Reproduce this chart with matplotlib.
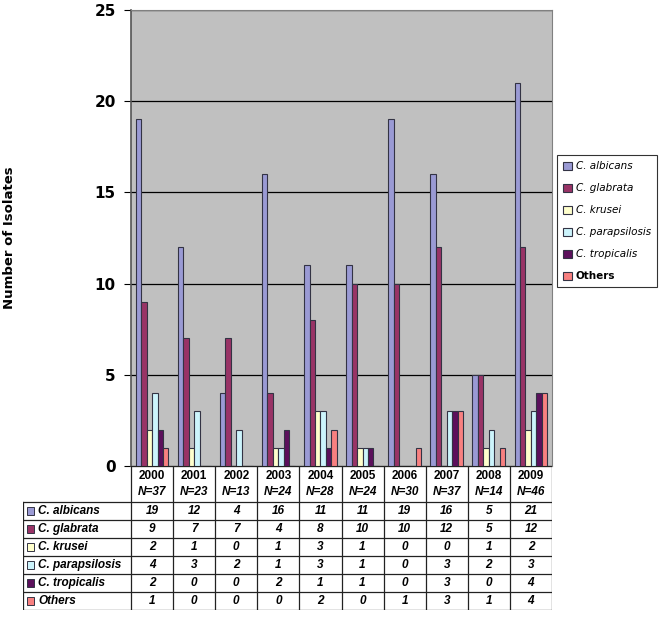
import matplotlib.pyplot as plt
import numpy as np

years = ['2000', '2001', '2002', '2003', '2004', '2005', '2006', '2007', '2008', '2009']
totals = [37, 23, 13, 24, 28, 24, 30, 37, 14, 46]
species = ['C. albicans', 'C. glabrata', 'C. krusei', 'C. parapsilosis', 'C. tropicalis', 'Others']

albicans = [19, 12, 4, 16, 11, 11, 19, 16, 5, 21]
glabrata = [9, 7, 7, 4, 8, 10, 10, 12, 5, 12]
krusei = [2, 1, 0, 1, 3, 1, 0, 0, 1, 2]
parapsilosis = [4, 3, 2, 1, 3, 1, 0, 3, 2, 3]
tropicalis = [2, 0, 0, 2, 1, 1, 0, 3, 0, 4]
others = [1, 0, 0, 0, 2, 0, 1, 3, 1, 4]

series = [albicans, glabrata, krusei, parapsilosis, tropicalis, others]
colors = ['#9a9ad4', '#993366', '#ffffcc', '#ccf4fc', '#5c105c', '#f88080']

W, H = 664, 629
fig = plt.figure(figsize=(W / 100, H / 100), dpi=100)

# main plot area (pixel box converted to figure fractions)
ax = fig.add_axes([131 / W, 1 - 466 / H, (552 - 131) / W, (466 - 10) / H])
ax.set_facecolor('#c0c0c0')

x = np.arange(len(years))
bw = 0.13
for i, (vals, name, col) in enumerate(zip(series, species, colors)):
    ax.bar(x + (i - 2.5) * bw, vals, bw, color=col, edgecolor='#333344',
           linewidth=0.8, label=name, zorder=3)

ax.set_xlim(-0.5, 9.5)
ax.set_ylim(0, 25)
ax.set_yticks([0, 5, 10, 15, 20, 25])
ax.set_yticklabels(['0', '5', '10', '15', '20', '25'], fontsize=11, fontweight='bold')
ax.yaxis.grid(True, color='black', linewidth=0.9, zorder=1)
ax.set_xticks([])
ax.tick_params(axis='y', length=5, width=0.8, pad=6)
for side in ['top', 'right', 'bottom']:
    ax.spines[side].set_color('#808080')
ax.spines['left'].set_color('#555555')
ax.spines['left'].set_linewidth(1.2)

fig.text(10 / W, 1 - 238 / H, 'Number of Isolates', rotation=90, ha='center',
         va='center', fontsize=9.5, fontweight='bold')

# legend
handles, labels = ax.get_legend_handles_labels()
leg = fig.legend(handles, labels, loc='upper left', bbox_to_anchor=(557 / W, 1 - 155 / H),
                 frameon=True, fancybox=False, edgecolor='black', fontsize=7.5,
                 handlelength=0.8, handleheight=0.8, handletextpad=0.4,
                 labelspacing=1.15, borderpad=0.6, borderaxespad=0)
leg.get_frame().set_linewidth(0.8)
for t in leg.get_texts()[:-1]:
    t.set_fontstyle('italic')
leg.get_texts()[-1].set_fontweight('bold')

# data table under the axis
lab_w = (131 - 23) / ((552 - 131) / 10)
tax = fig.add_axes([23 / W, 1 - 610 / H, (552 - 23) / W, (610 - 466) / H])
tax.set_xlim(-0.5 - lab_w, 9.5)
tax.set_ylim(0, 8)
tax.axis('off')

lc = '#222222'
for k in range(11):
    tax.plot([k - 0.5, k - 0.5], [0, 8], color=lc, lw=0.9)
tax.plot([-0.5 - lab_w, -0.5 - lab_w], [0, 6], color=lc, lw=0.9)
for r in range(7):
    tax.plot([-0.5 - lab_w, 9.5], [r, r], color=lc, lw=0.9)
tax.plot([-0.5, 9.5], [8, 8], color=lc, lw=0.9)

tfont = ['Liberation Sans Narrow', 'Liberation Sans', 'DejaVu Sans']
for j, (yr, n) in enumerate(zip(years, totals)):
    tax.text(j, 7.45, yr, ha='center', va='center', fontsize=8.5,
             fontweight='bold', family=tfont)
    tax.text(j, 6.55, f'N={n}', ha='center', va='center', fontsize=8.5,
             fontweight='bold', style='italic', family=tfont)

for r, (vals, name, col) in enumerate(zip(series, species, colors)):
    yc = 5.5 - r
    tax.add_patch(plt.Rectangle((-0.5 - lab_w + 0.1, yc - 0.22), 0.17, 0.44,
                                facecolor=col, edgecolor='#333344', lw=0.7))
    tax.text(-0.5 - lab_w + 0.36, yc, name, ha='left', va='center', fontsize=8.5,
             fontweight='bold', style='italic', family=tfont)
    for j, v in enumerate(vals):
        tax.text(j, yc, str(v), ha='center', va='center', fontsize=8.5,
                 fontweight='bold', style='italic', family=tfont)

fig.savefig('out.png', dpi=100)
